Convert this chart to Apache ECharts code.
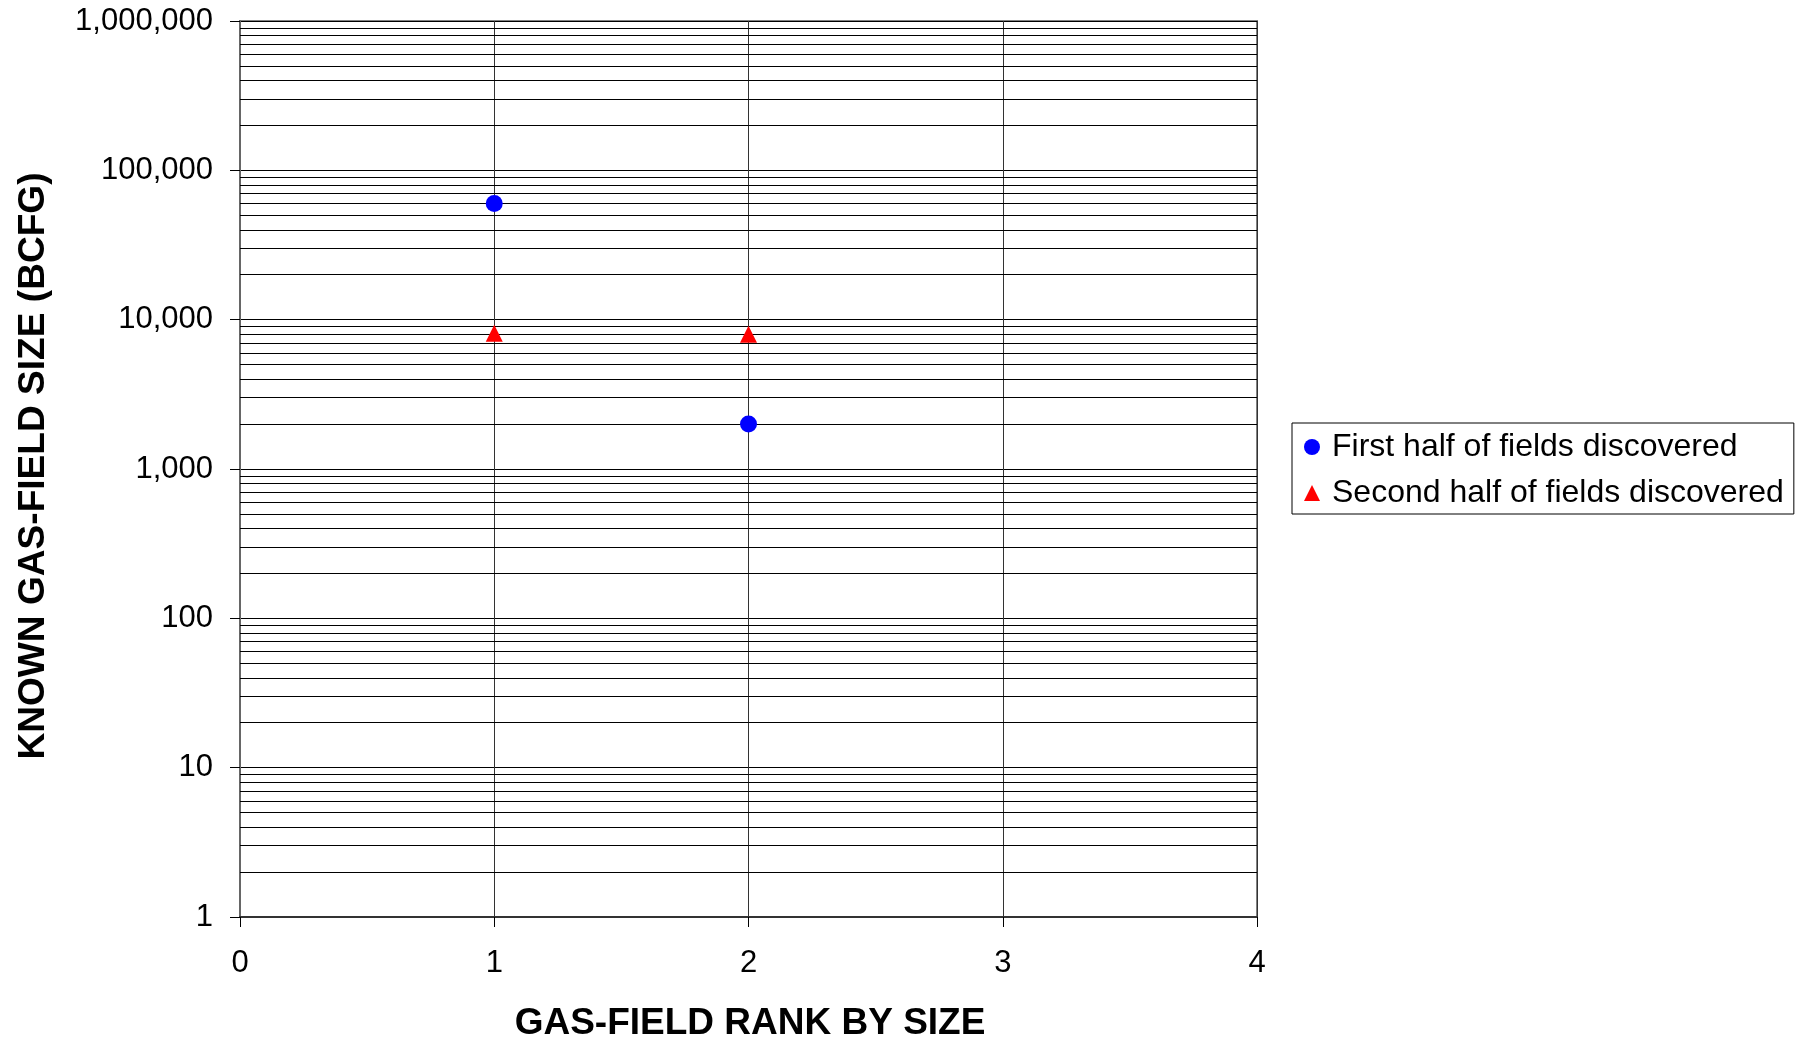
<!DOCTYPE html>
<html>
<head>
<meta charset="utf-8">
<script src="https://cdn.jsdelivr.net/npm/echarts@6/dist/echarts.min.js"></script>
<style>
html,body{margin:0;padding:0;background:#fff;}
#chart{width:1805px;height:1040px;}
</style>
</head>
<body>
<div id="chart"></div>
<script>
// ---- data ----
const seriesNames = ['First half of fields discovered', 'Second half of fields discovered'];
const firstRank = [1, 2];
const firstSize = [60000, 2000];
const secondRank = [1, 2];
const secondSize = [8100, 8000];
const xTicks = [0, 1, 2, 3, 4];
const yTicks = [1, 10, 100, 1000, 10000, 100000, 1000000];
const yMinorMultipliers = [2, 3, 4, 5, 6, 7, 8, 9];
const xTitle = 'GAS-FIELD RANK BY SIZE';
const yTitle = 'KNOWN GAS-FIELD SIZE (BCFG)';

const FONT = '"Liberation Sans", Arial, Helvetica, sans-serif';

const minorGrid = [];
for (let i = 0; i < yTicks.length - 1; i++) {
  yMinorMultipliers.forEach(m => minorGrid.push({ yAxis: yTicks[i] * m }));
}

const chart = echarts.init(document.getElementById('chart'), null, { renderer: 'canvas' });
chart.setOption({
  animation: false,
  backgroundColor: '#ffffff',
  grid: {
    left: 240, right: 548, top: 21, bottom: 123,
    show: true, borderColor: '#808080', borderWidth: 2, backgroundColor: 'transparent'
  },
  xAxis: {
    type: 'value', min: xTicks[0], max: xTicks[xTicks.length - 1], interval: 1,
    axisLine: { show: true, onZero: false, lineStyle: { color: '#333', width: 2 } },
    axisTick: { show: true, inside: false, length: 10, lineStyle: { color: '#000', width: 1 } },
    axisLabel: { show: true, margin: 31, fontSize: 31, color: '#000', fontFamily: FONT },
    splitLine: { show: true, lineStyle: { color: '#333', width: 1 } }
  },
  yAxis: {
    type: 'log', logBase: 10, min: yTicks[0], max: yTicks[yTicks.length - 1], splitNumber: 6,
    axisLine: { show: true, lineStyle: { color: '#666', width: 2 } },
    axisTick: { show: true, inside: false, length: 10, lineStyle: { color: '#000', width: 1 } },
    axisLabel: {
      show: true, margin: 27, fontSize: 31, color: '#000', fontFamily: FONT,
      formatter: v => Number(v).toLocaleString('en-US')
    },
    splitLine: { show: true, lineStyle: { color: '#000', width: 1 } }
  },
  legend: {
    orient: 'vertical', left: 1292, top: 423,
    padding: [8, 10, 5, 12], itemGap: 14, itemWidth: 16, itemHeight: 16,
    borderColor: '#000', borderWidth: 1, backgroundColor: '#fff',
    textStyle: { fontSize: 32, color: '#000', fontFamily: FONT, padding: [0, 0, 0, 7] },
    data: [
      { name: seriesNames[0], icon: 'circle' },
      { name: seriesNames[1], icon: 'triangle' }
    ]
  },
  graphic: [
    {
      type: 'text', x: 750, y: 1024,
      style: { text: xTitle, fontSize: 37, fontWeight: 'bold', fontFamily: FONT, fill: '#000',
               align: 'center', verticalAlign: 'middle' }
    },
    {
      type: 'text', x: 34, y: 466, rotation: Math.PI / 2, scaleX: 1.03,
      style: { text: yTitle, fontSize: 36, fontWeight: 'bold', fontFamily: FONT, fill: '#000',
               align: 'center', verticalAlign: 'middle' }
    }
  ],
  series: [
    {
      name: 'minorGrid', type: 'line', data: [], z: 1, silent: true,
      markLine: {
        silent: true, symbol: ['none', 'none'], animation: false,
        label: { show: false },
        lineStyle: { color: '#000', width: 1, type: 'solid' },
        emphasis: { disabled: true },
        data: minorGrid
      }
    },
    {
      name: seriesNames[0], type: 'scatter', symbol: 'circle', symbolSize: 17, z: 5,
      itemStyle: { color: '#0000ff', opacity: 1 },
      data: firstRank.map((x, i) => [x, firstSize[i]])
    },
    {
      name: seriesNames[1], type: 'scatter', symbol: 'triangle', symbolSize: 17, z: 5,
      itemStyle: { color: '#ff0000', opacity: 1 },
      data: secondRank.map((x, i) => [x, secondSize[i]])
    }
  ]
});
</script>
</body>
</html>
